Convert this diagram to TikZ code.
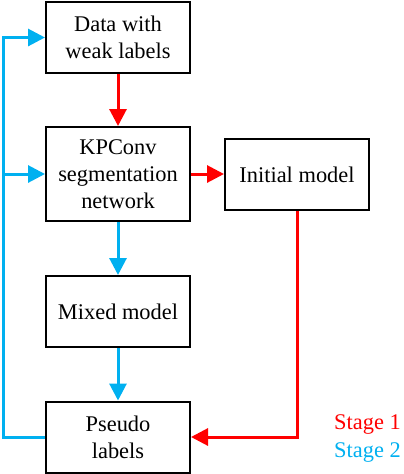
\documentclass[tikz,border=0pt]{standalone}
\usepackage{fontspec}
\setmainfont{Liberation Serif}
\usetikzlibrary{arrows.meta,positioning}
\definecolor{stageblue}{RGB}{0,176,240}
\definecolor{stagered}{RGB}{255,0,0}

\begin{document}
\begin{tikzpicture}[x=1pt,y=1pt,
  box/.style={draw=black,line width=2pt,minimum width=144pt,minimum height=71pt,
    align=center,inner sep=0pt,font=\fontsize{22.4}{27}\selectfont},
  redline/.style={draw=stagered,line width=3pt,-{Triangle[length=17pt,width=17pt]}},
  blueline/.style={draw=stageblue,line width=3pt,-{Triangle[length=17pt,width=17pt]}}]
\useasboundingbox (0,0) rectangle (404,-474);
\node [box] (data) at (118,-37.5) {Data with\\weak labels};
\node [box,minimum height=94pt] (kp) at (118,-174) {KPConv\\segmentation\\network};
\node [box] (mixed) at (118,-311.5) {Mixed model};
\node [box] (pseudo) at (118,-437) {Pseudo\\labels};
\node [box] (init) at (297,-174.5) {Initial model};
\coordinate (lp) at (3,-437);
\draw [redline] (data) -- (kp);
\draw [redline] (kp.east) -- (init.west |- kp.east);
\draw [redline] (init.south) |- (pseudo.east);
\draw [blueline] (kp) -- (mixed);
\draw [blueline] (mixed) -- (pseudo);
\draw [blueline] (pseudo.west) -- (lp) |- (data.west);
\draw [blueline] (lp |- kp.west) -- (kp.west);
\node [anchor=east,text=stagered,inner sep=0pt,font=\fontsize{22.4}{27}\selectfont] (s1) at (401,-424) {Stage 1};
\node [anchor=east,text=stageblue,inner sep=0pt,font=\fontsize{22.4}{27}\selectfont] (s2) at (401,-452) {Stage 2};
\end{tikzpicture}
\end{document}
